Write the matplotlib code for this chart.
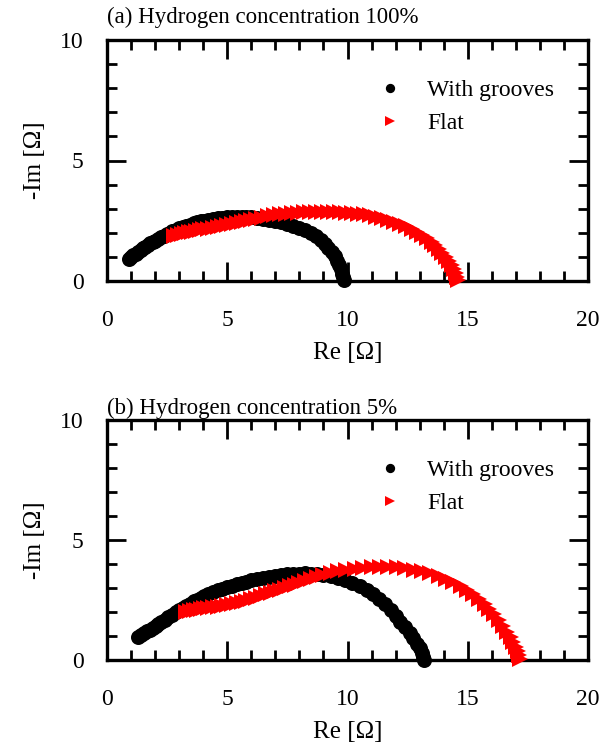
import matplotlib
matplotlib.use("Agg")
import matplotlib.pyplot as plt
from matplotlib.ticker import MultipleLocator

plt.rcParams['font.family'] = ['Liberation Serif', 'DejaVu Serif']

# ---------------- data ----------------
titles = ["(a) Hydrogen concentration 100%", "(b) Hydrogen concentration 5%"]
series_names = ["With grooves", "Flat"]
x_label = "Re [Ω]"
y_label = "-Im [Ω]"
x_ticks = [0, 5, 10, 15, 20]
y_ticks = [0, 5, 10]

# (a) 100 %
a_groove_re = [0.9, 1.0, 1.1, 1.2, 1.3, 1.4, 1.5, 1.6, 1.7, 1.8, 1.9, 2.0, 2.12, 2.24, 2.36,
               2.48, 2.6, 2.72, 2.85, 3.0, 3.15, 3.3, 3.45, 3.6, 3.75, 3.9, 4.05, 4.2, 4.4,
               4.6, 4.8, 5.0, 5.2, 5.4, 5.6, 5.8, 6.0, 6.25, 6.5, 6.75, 7.0, 7.25, 7.5, 7.75,
               8.0, 8.25, 8.5, 8.7, 8.9, 9.05, 9.2, 9.35, 9.47, 9.57, 9.66, 9.73, 9.79, 9.83,
               9.86]
a_groove_im = [0.9, 0.98, 1.06, 1.14, 1.21, 1.28, 1.35, 1.42, 1.49, 1.56, 1.62, 1.68, 1.75,
               1.82, 1.88, 1.94, 2.0, 2.06, 2.12, 2.18, 2.24, 2.29, 2.34, 2.39, 2.43, 2.47,
               2.5, 2.53, 2.57, 2.6, 2.62, 2.64, 2.66, 2.67, 2.67, 2.66, 2.64, 2.61, 2.57,
               2.53, 2.48, 2.43, 2.36, 2.28, 2.2, 2.1, 1.98, 1.85, 1.7, 1.55, 1.38, 1.2, 1.02,
               0.84, 0.66, 0.48, 0.31, 0.15, 0.03]
a_flat_re = [2.8, 2.95, 3.1, 3.25, 3.4, 3.55, 3.7, 3.85, 4.0, 4.2, 4.4, 4.6, 4.8, 5.0, 5.2,
             5.4, 5.6, 5.8, 6.0, 6.2, 6.45, 6.7, 6.95, 7.2, 7.45, 7.7, 7.95, 8.2, 8.45, 8.7,
             8.95, 9.2, 9.45, 9.7, 9.95, 10.2, 10.45, 10.7, 10.95, 11.2, 11.45, 11.7, 11.95,
             12.2, 12.45, 12.7, 12.9, 13.1, 13.3, 13.5, 13.65, 13.8, 13.95, 14.1, 14.22,
             14.33, 14.42, 14.5, 14.56, 14.6]
a_flat_im = [1.87, 1.91, 1.95, 1.98, 2.02, 2.05, 2.08, 2.11, 2.14, 2.17, 2.2, 2.24, 2.28,
             2.32, 2.36, 2.41, 2.45, 2.5, 2.54, 2.58, 2.63, 2.68, 2.72, 2.76, 2.79, 2.82,
             2.84, 2.86, 2.87, 2.88, 2.88, 2.88, 2.87, 2.86, 2.84, 2.82, 2.79, 2.76, 2.72,
             2.67, 2.61, 2.54, 2.46, 2.37, 2.27, 2.15, 2.04, 1.92, 1.78, 1.62, 1.48, 1.33,
             1.17, 1.0, 0.83, 0.65, 0.48, 0.32, 0.17, 0.04]

# (b) 5 %
b_groove_re = [1.3, 1.42, 1.54, 1.66, 1.78, 1.9, 2.02, 2.14, 2.26, 2.4, 2.55, 2.7, 2.85, 3.0,
               3.15, 3.3, 3.45, 3.6, 3.75, 3.9, 4.05, 4.2, 4.4, 4.6, 4.8, 5.0, 5.2, 5.4, 5.6,
               5.8, 6.0, 6.25, 6.5, 6.75, 7.0, 7.25, 7.5, 7.75, 8.0, 8.25, 8.5, 8.75, 9.0,
               9.3, 9.6, 9.9, 10.2, 10.5, 10.8, 11.05, 11.3, 11.55, 11.8, 12.0, 12.2, 12.4,
               12.58, 12.74, 12.88, 13.0, 13.08, 13.14, 13.18]
b_groove_im = [0.95, 1.03, 1.11, 1.19, 1.27, 1.35, 1.43, 1.51, 1.59, 1.68, 1.78, 1.88, 1.98,
               2.08, 2.17, 2.26, 2.35, 2.44, 2.52, 2.6, 2.67, 2.74, 2.82, 2.9, 2.97, 3.04,
               3.1, 3.16, 3.22, 3.27, 3.32, 3.38, 3.43, 3.47, 3.51, 3.54, 3.57, 3.59, 3.6,
               3.61, 3.6, 3.58, 3.55, 3.5, 3.43, 3.34, 3.22, 3.08, 2.92, 2.75, 2.55, 2.32,
               2.07, 1.84, 1.6, 1.36, 1.12, 0.9, 0.68, 0.48, 0.3, 0.14, 0.02]
b_flat_re = [3.3, 3.45, 3.6, 3.75, 3.9, 4.05, 4.2, 4.4, 4.6, 4.8, 5.0, 5.2, 5.4, 5.6, 5.8,
             6.0, 6.2, 6.4, 6.6, 6.8, 7.0, 7.2, 7.4, 7.6, 7.8, 8.0, 8.25, 8.5, 8.75, 9.0,
             9.3, 9.6, 9.95, 10.3, 10.65, 11.0, 11.35, 11.7, 12.05, 12.4, 12.75, 13.1,
             13.45, 13.8, 14.1, 14.4, 14.7, 14.95, 15.2, 15.45, 15.7, 15.9, 16.1, 16.3,
             16.48, 16.64, 16.78, 16.9, 17.0, 17.08, 17.14, 17.18]
b_flat_im = [2.0, 2.04, 2.07, 2.1, 2.13, 2.15, 2.17, 2.2, 2.22, 2.25, 2.28, 2.32, 2.36, 2.41,
             2.47, 2.53, 2.6, 2.66, 2.73, 2.8, 2.87, 2.93, 3.0, 3.07, 3.14, 3.21, 3.3, 3.39,
             3.47, 3.55, 3.63, 3.7, 3.76, 3.81, 3.85, 3.87, 3.88, 3.88, 3.86, 3.82, 3.77,
             3.7, 3.61, 3.5, 3.38, 3.24, 3.08, 2.92, 2.74, 2.54, 2.32, 2.12, 1.9, 1.66, 1.42,
             1.18, 0.95, 0.74, 0.54, 0.36, 0.2, 0.05]

panels = [
    (a_groove_re, a_groove_im, a_flat_re, a_flat_im),
    (b_groove_re, b_groove_im, b_flat_re, b_flat_im),
]

# ---------------- figure ----------------
W, H = 613, 750
fig = plt.figure(figsize=(W / 100, H / 100), dpi=100)

rects = [(107, 40, 588, 281), (107, 420, 588, 660)]  # left, top, right, bottom (px)
title_pads = [12, 4]

for (l, t, r, b), title, tpad, (gx, gy, fx, fy) in zip(rects, titles, title_pads, panels):
    ax = fig.add_axes([l / W, 1 - b / H, (r - l) / W, (b - t) / H])
    ax.plot(gx, gy, linestyle='none', marker='o', ms=10.8, color='black',
            markeredgewidth=0, label=series_names[0], clip_on=False, zorder=3)
    ax.plot(fx, fy, linestyle='none', marker='>', ms=11.5, color='#ff0000',
            markeredgewidth=0, label=series_names[1], clip_on=False, zorder=4)
    ax.set_xlim(0, 20)
    ax.set_ylim(0, 10)
    ax.set_xticks(x_ticks)
    ax.set_yticks(y_ticks)
    ax.xaxis.set_minor_locator(MultipleLocator(1))
    ax.yaxis.set_minor_locator(MultipleLocator(1))
    ax.tick_params(which='both', direction='in', top=True, right=True,
                   width=2.0, labelsize=17, color='black')
    ax.tick_params(axis='x', which='both', pad=21)
    ax.tick_params(axis='y', which='both', pad=17)
    ax.tick_params(which='major', length=14)
    ax.tick_params(which='minor', length=7.5)
    for s in ax.spines.values():
        s.set_linewidth(2.4)
    ax.set_xlabel(x_label, fontsize=18, labelpad=8)
    ax.set_ylabel(y_label, fontsize=18, labelpad=10)
    ax.set_title(title, loc='left', fontsize=16.5, pad=tpad)
    ax.legend(loc='upper left', bbox_to_anchor=(0.53, 0.905), frameon=False,
              fontsize=17, markerscale=0.62, handlelength=1.0,
              handletextpad=1.05, labelspacing=0.5, borderpad=0.2)

fig.savefig("out.png", dpi=100)
